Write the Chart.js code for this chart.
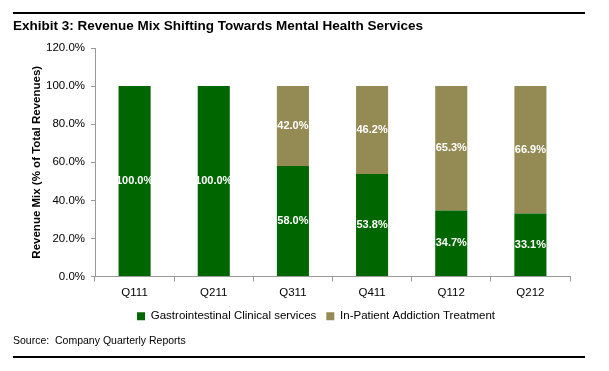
<!DOCTYPE html>
<html>
<head>
<meta charset="utf-8">
<script src="https://cdn.jsdelivr.net/npm/chart.js@4/dist/chart.umd.min.js"></script>
<style>
  html, body { margin: 0; padding: 0; background: #fff; }
  #wrap { position: relative; width: 609px; height: 371px; overflow: hidden; font-family: "Liberation Sans", Arial, sans-serif; }
  #c { position: absolute; left: 0; top: 0; }
  .rule { position: absolute; left: 13px; width: 572px; height: 2px; background: #000; }
  #title { position: absolute; left: 13px; top: 18px; font-weight: bold; font-size: 13.5px; color: #000; white-space: nowrap; }
  #source { position: absolute; left: 13px; top: 334px; font-size: 10.5px; color: #000; white-space: nowrap; }
</style>
</head>
<body>
<div id="wrap">
  <canvas id="c" width="609" height="371"></canvas>
  <div class="rule" style="top:12px"></div>
  <div id="title">Exhibit 3: Revenue Mix Shifting Towards Mental Health Services</div>
  <div id="source">Source:&nbsp; Company Quarterly Reports</div>
  <div class="rule" style="top:356px"></div>
</div>
<script>
const categories = ["Q111", "Q211", "Q311", "Q411", "Q112", "Q212"];
const seriesNames = ["Gastrointestinal Clinical services", "In-Patient Addiction Treatment"];
const gastroValues = [100.0, 100.0, 58.0, 53.8, 34.7, 33.1];
const addictionValues = [0, 0, 42.0, 46.2, 65.3, 66.9];
const yTicks = [0, 20, 40, 60, 80, 100, 120];

const FONT = '"Liberation Sans", Arial, sans-serif';
Chart.defaults.font.family = FONT;
Chart.defaults.color = '#000';

const barLabels = {
  id: 'barLabels',
  afterDatasetsDraw(chart) {
    const ctx = chart.ctx;
    ctx.save();
    ctx.font = 'bold 11px ' + FONT;
    ctx.fillStyle = '#fff';
    ctx.textAlign = 'center';
    ctx.textBaseline = 'middle';
    chart.data.datasets.forEach((ds, i) => {
      const meta = chart.getDatasetMeta(i);
      meta.data.forEach((bar, j) => {
        const v = ds.data[j];
        if (!v) return;
        const p = bar.getProps(['x', 'y', 'base'], true);
        ctx.fillText(v.toFixed(1) + '%', p.x, (p.y + p.base) / 2);
      });
    });
    ctx.restore();
  }
};

const legendShift = {
  id: 'legendShift',
  afterLayout(chart) {
    if (chart.legend) { chart.legend.left += 62; }
  }
};

new Chart(document.getElementById('c'), {
  type: 'bar',
  data: {
    labels: categories,
    datasets: [
      { label: seriesNames[0], data: gastroValues, backgroundColor: '#006600', borderWidth: 0, barPercentage: 0.405, categoryPercentage: 1 },
      { label: seriesNames[1], data: addictionValues, backgroundColor: '#948A54', borderWidth: 0, barPercentage: 0.405, categoryPercentage: 1 }
    ]
  },
  options: {
    responsive: false,
    devicePixelRatio: 1,
    animation: false,
    layout: { padding: { top: 48, right: 39, bottom: 39, left: 0 } },
    plugins: {
      legend: {
        position: 'bottom',
        labels: { boxWidth: 8, boxHeight: 8, padding: 10, font: { size: 11.5 }, color: '#000' }
      },
      tooltip: { enabled: false }
    },
    scales: {
      x: {
        stacked: true,
        grid: { display: true, drawOnChartArea: false, drawTicks: true, tickLength: 5, color: '#999', offset: true },
        border: { display: true, color: '#999' },
        ticks: { padding: 4, font: { size: 11.5 }, color: '#000' },
        afterFit: s => { s.height = 24; }
      },
      y: {
        stacked: true,
        min: 0,
        max: 120,
        afterBuildTicks: s => { s.ticks = yTicks.map(v => ({ value: v })); },
        grid: { display: true, drawOnChartArea: false, drawTicks: true, tickLength: 4, color: '#999' },
        border: { display: true, color: '#999' },
        ticks: { padding: 6, font: { size: 11.5 }, color: '#000', callback: v => Number(v).toFixed(1) + '%' },
        title: { display: true, text: 'Revenue Mix (% of Total Revenues)', font: { size: 11.5, weight: 'bold' }, color: '#000', padding: { top: 30, bottom: 0 } },
        afterFit: s => { s.width = 95; }
      }
    }
  },
  plugins: [barLabels, legendShift]
});
</script>
</body>
</html>
